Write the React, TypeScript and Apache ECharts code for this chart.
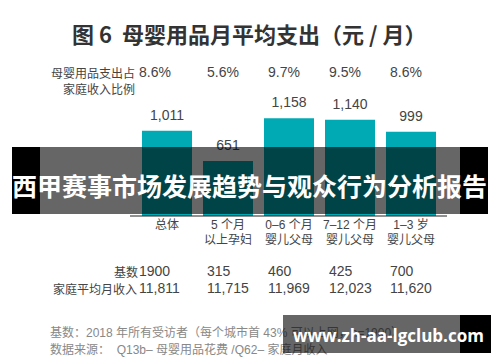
import React, { useEffect, useRef } from "react";
import * as echarts from "echarts";

const categories = ["总体", "5 个月\n以上孕妇", "0–6 个月\n婴儿父母", "7–12 个月\n婴儿父母", "1–3 岁\n婴儿父母"];
const spending = [1011, 651, 1158, 1140, 999];
const shareOfIncome = ["8.6%", "5.6%", "9.7%", "9.5%", "8.6%"];
const baseCounts = ["1900", "315", "460", "425", "700"];
const monthlyIncome = ["11,811", "11,715", "11,969", "12,023", "11,620"];

const FONT = "'Liberation Sans', 'Noto Sans CJK SC', sans-serif";
const CJK = "'Noto Sans CJK SC', sans-serif";

const rowLabel = (fontSize: number) => ({
  interval: 0,
  margin: 0,
  align: "left" as const,
  formatter: (v: string, i: number) => (i === 0 ? `{f|${v}}` : `{o|${v}}`),
  rich: {
    f: { fontSize, lineHeight: 14, color: "#444", fontFamily: FONT },
    o: { fontSize, lineHeight: 14, color: "#444", fontFamily: FONT, padding: [0, 0, 0, 7] },
  },
});

export default function App() {
  const ref = useRef<HTMLDivElement>(null);
  useEffect(() => {
    if (!ref.current) return;
    const chart = echarts.init(ref.current, undefined, { renderer: "svg" });
    chart.setOption({
      animation: false,
      backgroundColor: "#ffffff",
      title: {
        text: "图 6  母婴用品月平均支出（元 / 月）",
        left: 67,
        top: 17,
        textStyle: { fontSize: 22, fontWeight: "bold", color: "#333", fontFamily: CJK },
      },
      grid: [
        { left: 136.5, width: 305, top: 97.8, height: 118.2 },
        { left: 108.5, width: 305, top: 97.8, height: 118.2 },
      ],
      xAxis: [
        {
          type: "category",
          gridIndex: 0,
          data: categories,
          axisLine: { show: false },
          axisTick: { show: false },
          axisLabel: { interval: 0, margin: 1, fontSize: 12, lineHeight: 15, color: "#444", fontFamily: FONT },
        },
        {
          type: "category",
          gridIndex: 1,
          position: "top",
          offset: 18.8,
          data: shareOfIncome,
          axisLine: { show: false },
          axisTick: { show: false },
          axisLabel: rowLabel(14),
        },
        {
          type: "category",
          gridIndex: 1,
          position: "bottom",
          offset: 48,
          data: baseCounts,
          axisLine: { show: false },
          axisTick: { show: false },
          axisLabel: rowLabel(14),
        },
        {
          type: "category",
          gridIndex: 1,
          position: "bottom",
          offset: 65,
          data: monthlyIncome,
          axisLine: { show: false },
          axisTick: { show: false },
          axisLabel: rowLabel(14),
        },
      ],
      yAxis: [
        { type: "value", gridIndex: 0, min: 0, max: 1400, show: false },
        { type: "value", gridIndex: 1, min: 0, max: 1, show: false },
      ],
      series: [
        {
          type: "bar",
          xAxisIndex: 0,
          yAxisIndex: 0,
          data: spending,
          barWidth: 50,
          itemStyle: { color: "#00AAB5" },
          label: {
            show: true,
            position: "top",
            distance: 9,
            fontSize: 14,
            color: "#444",
            fontFamily: FONT,
            formatter: (p: any) => Number(p.value).toLocaleString("en-US"),
          },
        },
      ],
      graphic: [
        { type: "line", shape: { x1: 130, y1: 216, x2: 447, y2: 216 }, style: { stroke: "#222", lineWidth: 1 }, z: 10 },
        { type: "text", x: 135, y: 72, style: { text: "母婴用品支出占", fill: "#444", fontSize: 12, fontFamily: CJK, align: "right", verticalAlign: "middle" } },
        { type: "text", x: 135, y: 88, style: { text: "家庭收入比例", fill: "#444", fontSize: 12, fontFamily: CJK, align: "right", verticalAlign: "middle" } },
        { type: "text", x: 138, y: 271, style: { text: "基数", fill: "#444", fontSize: 12, fontFamily: CJK, align: "right", verticalAlign: "middle" } },
        { type: "text", x: 137, y: 288, style: { text: "家庭平均月收入", fill: "#444", fontSize: 12, fontFamily: CJK, align: "right", verticalAlign: "middle" } },
        { type: "text", x: 50, y: 333, style: { text: "基数：2018 年所有受访者（每个城市首 43% 可以上网，n=1900）", fill: "#888", fontSize: 12, fontFamily: FONT, align: "left", verticalAlign: "middle" } },
        { type: "text", x: 50, y: 350, style: { text: "数据来源：  Q13b– 母婴用品花费 /Q62– 家庭月收入", fill: "#888", fontSize: 12, fontFamily: FONT, align: "left", verticalAlign: "middle" } },
        { type: "rect", z: 100, shape: { x: 12, y: 147, width: 28, height: 67 }, style: { fill: "#000" } },
        { type: "rect", z: 100, shape: { x: 40, y: 147, width: 420, height: 67 }, style: { fill: "rgba(0,0,0,0.6)" } },
        { type: "rect", z: 100, shape: { x: 460, y: 147, width: 28, height: 67 }, style: { fill: "#000" } },
        { type: "text", z: 101, x: 249.5, y: 185, style: { text: "西甲赛事市场发展趋势与观众行为分析报告", fill: "#fff", fontSize: 25, fontWeight: "bold", fontFamily: CJK, align: "center", verticalAlign: "middle" } },
        { type: "rect", z: 100, shape: { x: 283, y: 315, width: 177, height: 38 }, style: { fill: "rgba(0,0,0,0.6)" } },
        { type: "rect", z: 100, shape: { x: 460, y: 315, width: 31, height: 38 }, style: { fill: "#000" } },
        { type: "text", z: 101, x: 293, y: 335, style: { text: "www.zh-aa-lgclub.com", fill: "#fff", fontSize: 17, fontWeight: "bold", fontFamily: "'Open Sans', 'Noto Sans', sans-serif", align: "left", verticalAlign: "middle" } },
      ],
    });
    return () => chart.dispose();
  }, []);
  return <div ref={ref} style={{ position: "fixed", left: 0, top: 0, width: 500, height: 362 }} />;
}
